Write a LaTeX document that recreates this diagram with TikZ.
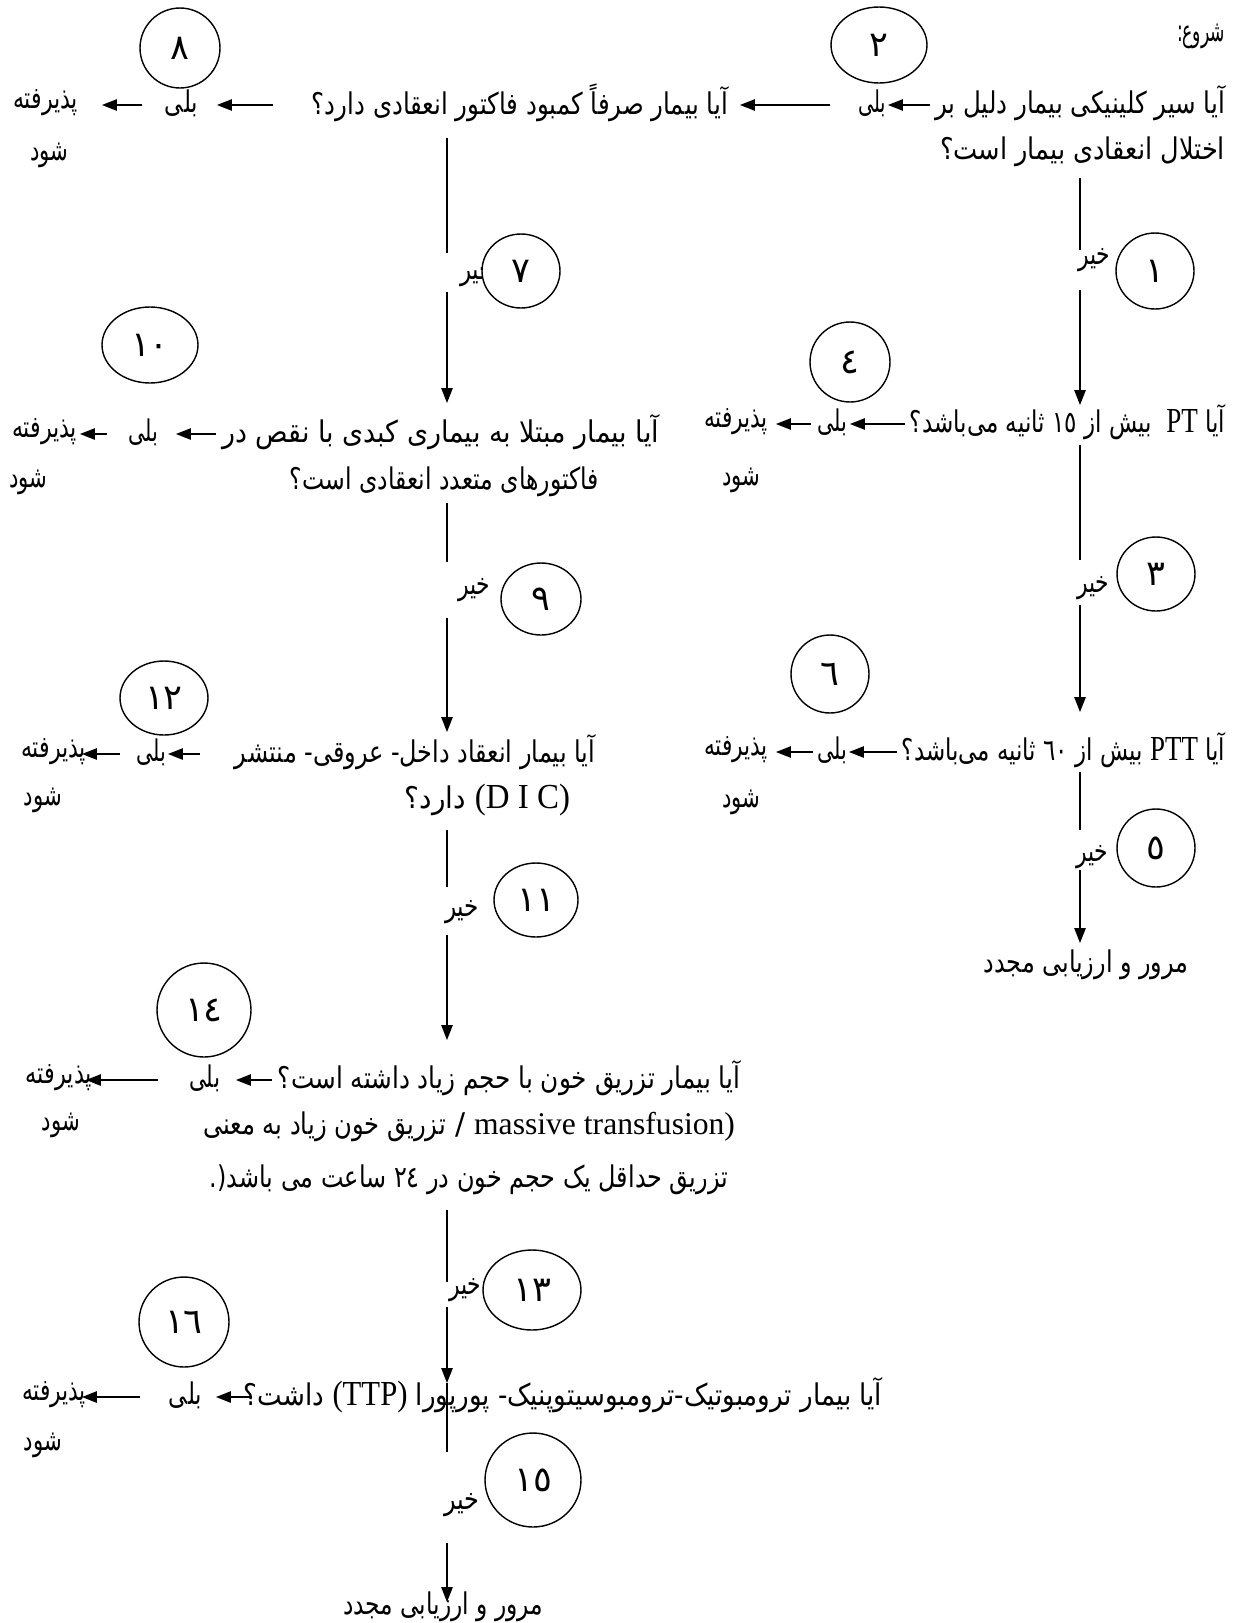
\documentclass[tikz,border=0pt]{standalone}
\usepackage{fontspec}
\usepackage{graphicx}
\usetikzlibrary{arrows.meta,shapes.geometric}
\TeXXeTstate=1
\newfontfamily\arf[Script=Arabic]{DejaVu Sans}
\newfontfamily\latf{Liberation Serif}
\newdimen\pxu \pxu=0.02cm
\newcommand\fa[2]{\resizebox{#1\pxu}{\height}{\arf #2}}
\newcommand\la[1]{{\fontsize{20}{22}\selectfont\latf #1}}
\tikzset{
 txt/.style={inner sep=0pt, outer sep=0pt, font=\fontsize{17}{19}\selectfont},
 circ/.style={ellipse, draw, line width=0.8pt, fill=white, inner sep=0pt, font=\fontsize{20}{22}\selectfont\arf},
 ln/.style={line width=0.8pt},
 arr/.style={line width=0.8pt, -{Triangle[length=8.5pt,width=6.5pt]}},
}
\begin{document}
\begin{tikzpicture}[x=0.02cm,y=-0.02cm]
\fill[white] (0,0) rectangle (1243,1623);
\useasboundingbox (0,0) rectangle (1243,1623);

% ---------- top row ----------
\node[txt,anchor=east] (t0) at (1225,36) {\fa{48}{\beginR شروع:\endR}};
\node[txt,anchor=east] (q1a) at (1225,103) {\fa{290}{\beginR آیا سیر کلینیکی بیمار دلیل بر\endR}};
\node[txt,anchor=east] (q1b) at (1225,152) {\fa{285}{\beginR اختلال انعقادی بیمار است؟\endR}};
\node[txt,anchor=east] (b2) at (886,103) {\fa{28}{\beginR بلی\endR}};
\node[txt,anchor=east] (q2) at (728,103) {\fa{416}{\beginR آیا بیمار صرفاً کمبود فاکتور انعقادی دارد؟\endR}};
\node[txt,anchor=east] (b8) at (198,103) {\fa{33}{\beginR بلی\endR}};
\node[txt,anchor=east] (p8) at (78,103) {\fa{65}{\beginR پذیرفته\endR}};
\node[txt,anchor=east] (s8) at (68,155) {\fa{38}{\beginR شود\endR}};
\coordinate (a1s) at (930,105); \coordinate (a1e) at (888,105);
\coordinate (a2s) at (830,105); \coordinate (a2e) at (740,105);
\coordinate (a3s) at (273,105); \coordinate (a3e) at (217,105);
\coordinate (a4s) at (142,105); \coordinate (a4e) at (102,105);
\draw[arr] (a1s) -- (a1e);
\draw[arr] (a2s) -- (a2e);
\draw[arr] (a3s) -- (a3e);
\draw[arr] (a4s) -- (a4e);
\node[circ,minimum width=1.92cm,minimum height=1.52cm] (c2) at (879,45) {٢};
\node[circ,minimum width=1.6cm,minimum height=1.6cm] (c8) at (180,48) {٨};

% ---------- right column ----------
\coordinate (v1s) at (1080,178); \coordinate (v1e) at (1080,250);
\draw[ln] (v1s) -- (v1e);
\node[txt,anchor=west] (k1) at (1078,260) {\fa{32}{\beginR خیر\endR}};
\node[circ,minimum width=1.56cm,minimum height=1.52cm] (c1) at (1155,271) {١};
\coordinate (v2s) at (1080,290); \coordinate (v2e) at (1080,405);
\draw[arr] (v2s) -- (v2e);

\node[txt,anchor=east] (qpt) at (1225,422) {\fa{315}{\beginR آیا \la{PT}\ \ بیش از ١٥ ثانیه می‌باشد؟\endR}};
\coordinate (a5s) at (905,424); \coordinate (a5e) at (850,424);
\draw[arr] (a5s) -- (a5e);
\node[txt,anchor=east] (b4) at (847,422) {\fa{30}{\beginR بلی\endR}};
\coordinate (a6s) at (811,424); \coordinate (a6e) at (776,424);
\draw[arr] (a6s) -- (a6e);
\node[txt,anchor=east] (p4) at (768,422) {\fa{64}{\beginR پذیرفته\endR}};
\node[txt,anchor=east] (s4) at (760,480) {\fa{38}{\beginR شود\endR}};
\node[circ,minimum width=1.6cm,minimum height=1.6cm] (c4) at (850,362) {٤};

\coordinate (v3s) at (1080,445); \coordinate (v3e) at (1080,560);
\draw[ln] (v3s) -- (v3e);
\node[txt,anchor=west] (k3) at (1077,588) {\fa{32}{\beginR خیر\endR}};
\node[circ,minimum width=1.56cm,minimum height=1.48cm] (c3) at (1156,574) {٣};
\coordinate (v4s) at (1080,605); \coordinate (v4e) at (1080,712);
\draw[arr] (v4s) -- (v4e);

\node[txt,anchor=east] (qptt) at (1225,750) {\fa{323}{\beginR آیا \la{PTT} بیش از ٦٠ ثانیه می‌باشد؟\endR}};
\coordinate (a7s) at (897,752); \coordinate (a7e) at (849,752);
\draw[arr] (a7s) -- (a7e);
\node[txt,anchor=east] (b6) at (847,750) {\fa{30}{\beginR بلی\endR}};
\coordinate (a8s) at (813,752); \coordinate (a8e) at (776,752);
\draw[arr] (a8s) -- (a8e);
\node[txt,anchor=east] (p6) at (768,750) {\fa{64}{\beginR پذیرفته\endR}};
\node[txt,anchor=east] (s6) at (760,802) {\fa{38}{\beginR شود\endR}};
\node[circ,minimum width=1.56cm,minimum height=1.56cm] (c6) at (830,674) {٦};

\coordinate (v5s) at (1080,772); \coordinate (v5e) at (1080,830);
\draw[ln] (v5s) -- (v5e);
\node[txt,anchor=west] (k5) at (1076,857) {\fa{32}{\beginR خیر\endR}};
\node[circ,minimum width=1.56cm,minimum height=1.56cm] (c5) at (1156,848) {٥};
\coordinate (v6s) at (1080,870); \coordinate (v6e) at (1080,943);
\draw[arr] (v6s) -- (v6e);
\node[txt] (e1) at (1086,965) {\fa{205}{\beginR مرور و ارزیابی مجدد\endR}};

% ---------- middle column ----------
\coordinate (v7s) at (447,138); \coordinate (v7e) at (447,253);
\draw[ln] (v7s) -- (v7e);
\node[txt,anchor=west] (k7) at (460,275) {\fa{34}{\beginR خیر\endR}};
\node[circ,minimum width=1.56cm,minimum height=1.48cm] (c7) at (521,271) {٧};
\coordinate (v8s) at (447,292); \coordinate (v8e) at (447,403);
\draw[arr] (v8s) -- (v8e);

\node[txt,anchor=east] (q3a) at (659,432) {\fa{437}{\beginR آیا بیمار مبتلا به بیماری کبدی با نقص در\endR}};
\node[txt,anchor=east] (q3b) at (599,482) {\fa{309}{\beginR فاکتورهای متعدد انعقادی است؟\endR}};
\coordinate (a9s) at (216,434); \coordinate (a9e) at (176,434);
\draw[arr] (a9s) -- (a9e);
\node[txt,anchor=east] (b10) at (158,432) {\fa{30}{\beginR بلی\endR}};
\coordinate (a10s) at (107,434); \coordinate (a10e) at (80,434);
\draw[arr] (a10s) -- (a10e);
\node[txt,anchor=east] (p10) at (77,432) {\fa{65}{\beginR پذیرفته\endR}};
\node[txt,anchor=east] (s10) at (47,482) {\fa{38}{\beginR شود\endR}};
\node[circ,minimum width=1.92cm,minimum height=1.52cm] (c10) at (150,345) {١٠};

\coordinate (v9s) at (447,503); \coordinate (v9e) at (447,562);
\draw[ln] (v9s) -- (v9e);
\node[txt,anchor=west] (k9) at (458,590) {\fa{32}{\beginR خیر\endR}};
\node[circ,minimum width=1.6cm,minimum height=1.44cm] (c9) at (541,599) {٩};
\coordinate (v10s) at (447,618); \coordinate (v10e) at (447,732);
\draw[arr] (v10s) -- (v10e);

\node[txt,anchor=east] (q4a) at (595,752) {\fa{360}{\beginR آیا بیمار انعقاد داخل- عروقی- منتشر\endR}};
\node[txt,anchor=east] (q4b) at (570,800) {\fa{165}{\beginR\beginL\la{(D I C)}\endL{} دارد؟\endR}};
\coordinate (a11s) at (200,754); \coordinate (a11e) at (168,754);
\draw[arr] (a11s) -- (a11e);
\node[txt,anchor=east] (b12) at (166,752) {\fa{30}{\beginR بلی\endR}};
\coordinate (a12s) at (120,754); \coordinate (a12e) at (82,754);
\draw[arr] (a12s) -- (a12e);
\node[txt,anchor=east] (p12) at (86,752) {\fa{65}{\beginR پذیرفته\endR}};
\node[txt,anchor=east] (s12) at (62,800) {\fa{38}{\beginR شود\endR}};
\node[circ,minimum width=1.76cm,minimum height=1.48cm] (c12) at (164,698) {١٢};

\coordinate (v11s) at (447,830); \coordinate (v11e) at (447,887);
\draw[ln] (v11s) -- (v11e);
\node[txt,anchor=west] (k11) at (445,912) {\fa{34}{\beginR خیر\endR}};
\node[circ,minimum width=1.68cm,minimum height=1.48cm] (c11) at (536,900) {١١};
\coordinate (v12s) at (447,935); \coordinate (v12e) at (447,1040);
\draw[arr] (v12s) -- (v12e);

\node[txt,anchor=east] (q5a) at (740,1078) {\fa{462}{\beginR آیا بیمار تزریق خون با حجم زیاد داشته است؟\endR}};
\node[txt,anchor=east] (q5b) at (735,1127) {\fa{243}{\beginR تزریق خون زیاد به معنی\endR}\ {\arf /}\ {\fontsize{18}{20}\selectfont\latf massive transfusion)}};
\node[txt,anchor=east] (q5c) at (728,1180) {\fa{518}{(.\beginR تزریق حداقل یک حجم خون در ٢٤ ساعت می باشد\endR}};
\coordinate (a13s) at (272,1080); \coordinate (a13e) at (236,1080);
\draw[arr] (a13s) -- (a13e);
\node[txt,anchor=east] (b14) at (220,1078) {\fa{31}{\beginR بلی\endR}};
\coordinate (a14s) at (158,1080); \coordinate (a14e) at (86,1080);
\draw[arr] (a14s) -- (a14e);
\node[txt,anchor=east] (p14) at (92,1078) {\fa{66}{\beginR پذیرفته\endR}};
\node[txt,anchor=east] (s14) at (80,1125) {\fa{38}{\beginR شود\endR}};
\node[circ,minimum width=1.88cm,minimum height=1.88cm] (c14) at (204,1010) {١٤};

\coordinate (v13s) at (447,1210); \coordinate (v13e) at (447,1282);
\draw[ln] (v13s) -- (v13e);
\node[txt,anchor=west] (k13) at (449,1290) {\fa{32}{\beginR خیر\endR}};
\node[circ,minimum width=1.96cm,minimum height=1.6cm] (c13) at (532,1290) {١٣};
\coordinate (v14s) at (447,1307); \coordinate (v14e) at (447,1383);
\coordinate (v15e) at (447,1452);
\draw[arr] (v14s) -- (v14e);
\draw[ln] (v14e) -- (v15e);

\node[txt,anchor=east] (q6) at (882,1395) {\fa{638}{\beginR آیا بیمار ترومبوتیک-ترومبوسیتوپنیک- پورپورا \la{(TTP)} داشت؟\endR}};
\coordinate (a15s) at (252,1397); \coordinate (a15e) at (216,1397);
\draw[arr] (a15s) -- (a15e);
\node[txt,anchor=east] (b16) at (202,1395) {\fa{33}{\beginR بلی\endR}};
\coordinate (a16s) at (140,1397); \coordinate (a16e) at (82,1397);
\draw[arr] (a16s) -- (a16e);
\node[txt,anchor=east] (p16) at (86,1395) {\fa{64}{\beginR پذیرفته\endR}};
\node[txt,anchor=east] (s16) at (62,1445) {\fa{38}{\beginR شود\endR}};
\node[circ,minimum width=1.8cm,minimum height=1.8cm] (c16) at (184,1322) {١٦};

\node[txt,anchor=west] (k15) at (444,1505) {\fa{35}{\beginR خیر\endR}};
\node[circ,minimum width=1.92cm,minimum height=1.88cm] (c15) at (533,1480) {١٥};
\coordinate (v16s) at (447,1543); \coordinate (v16e) at (447,1602);
\draw[arr] (v16s) -- (v16e);
\node[txt] (e2) at (443,1607) {\fa{200}{\beginR مرور و ارزیابی مجدد\endR}};
\end{tikzpicture}
\end{document}
